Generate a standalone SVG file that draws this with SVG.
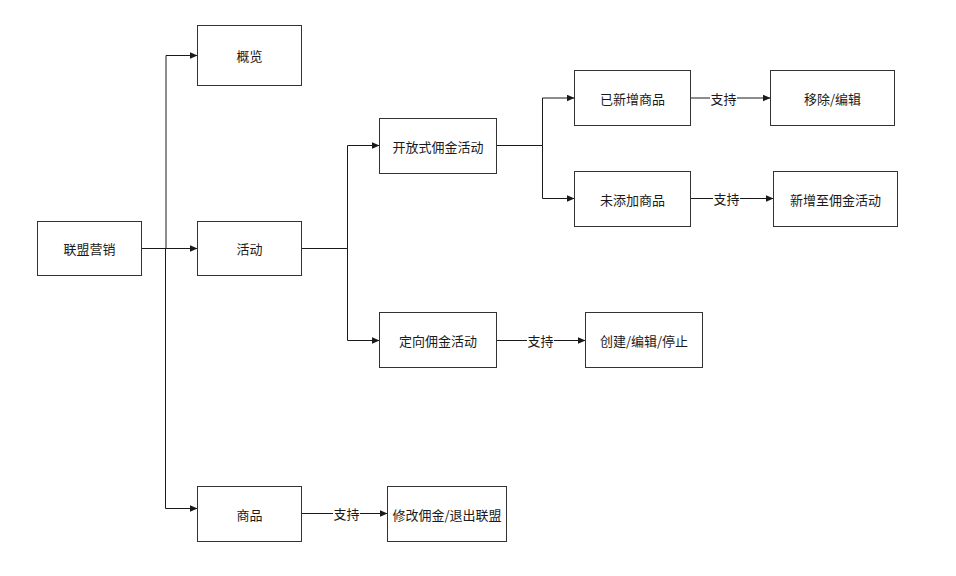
<svg xmlns="http://www.w3.org/2000/svg" width="956" height="576" viewBox="0 0 956 576">
<style>
.box{fill:#ffffff;stroke:#333333;stroke-width:1}
.t{font-family:"Noto Sans CJK SC","Microsoft YaHei",sans-serif;font-size:13px;fill:#1a1a1a;text-anchor:middle;dominant-baseline:central}
.c{fill:none;stroke:#1a1a1a;stroke-width:1}
.lb{fill:#ffffff}
</style>
<defs>
<marker id="arr" markerUnits="userSpaceOnUse" markerWidth="8" markerHeight="7" refX="7.5" refY="3.5" orient="auto">
<path d="M0,0 L8,3.5 L0,7 z" fill="#1a1a1a"/>
</marker>
</defs>
<rect width="956" height="576" fill="#ffffff"/>
<g id="connectors">
<polyline class="c" points="141.5,248.5 166,248.5 166,55.5 197,55.5" marker-end="url(#arr)"/>
<polyline class="c" points="141.5,248.5 197,248.5" marker-end="url(#arr)"/>
<polyline class="c" points="141.5,248.5 165.5,248.5 165.5,508.5 197,508.5" marker-end="url(#arr)"/>
<polyline class="c" points="301.5,248.5 347.5,248.5 347.5,145.5 379,145.5" marker-end="url(#arr)"/>
<polyline class="c" points="301.5,248.5 347.5,248.5 347.5,340.5 379,340.5" marker-end="url(#arr)"/>
<polyline class="c" points="496.5,145.5 542.5,145.5 542.5,98 574,98" marker-end="url(#arr)"/>
<polyline class="c" points="496.5,145.5 542.5,145.5 542.5,198.5 574,198.5" marker-end="url(#arr)"/>
<line class="c" x1="690.5" y1="98" x2="770" y2="98" marker-end="url(#arr)"/>
<line class="c" x1="690.5" y1="198.5" x2="773" y2="198.5" marker-end="url(#arr)"/>
<line class="c" x1="496.5" y1="340.5" x2="585" y2="340.5" marker-end="url(#arr)"/>
<line class="c" x1="301.5" y1="513.5" x2="387" y2="513.5" marker-end="url(#arr)"/>
<g id="labels">
<rect class="lb" x="710" y="90" width="27" height="16"/>
<text class="t" x="723.5" y="98">支持</text>
<rect class="lb" x="713" y="190.5" width="27" height="16"/>
<text class="t" x="726.5" y="198.5">支持</text>
<rect class="lb" x="527" y="332.5" width="27" height="16"/>
<text class="t" x="540.5" y="340.5">支持</text>
<rect class="lb" x="333" y="505.5" width="27" height="16"/>
<text class="t" x="346.5" y="513.5">支持</text>
</g>
</g>
<g id="n-root"><rect class="box" x="37.5" y="221.5" width="104" height="54"/><text class="t" x="89.5" y="248.5">联盟营销</text></g>
<g id="n-overview"><rect class="box" x="197.5" y="25.5" width="104" height="60"/><text class="t" x="249.5" y="55.5">概览</text></g>
<g id="n-activity"><rect class="box" x="197.5" y="221.5" width="104" height="54"/><text class="t" x="249.5" y="248.5">活动</text></g>
<g id="n-goods"><rect class="box" x="197.5" y="486.5" width="104" height="55"/><text class="t" x="249.5" y="514">商品</text></g>
<g id="n-open"><rect class="box" x="379.5" y="118.5" width="117" height="55"/><text class="t" x="438" y="146">开放式佣金活动</text></g>
<g id="n-directed"><rect class="box" x="379.5" y="312.5" width="117" height="55"/><text class="t" x="438" y="340">定向佣金活动</text></g>
<g id="n-added"><rect class="box" x="574.5" y="70.5" width="116" height="55"/><text class="t" x="632.5" y="98">已新增商品</text></g>
<g id="n-notadded"><rect class="box" x="574.5" y="171.5" width="116" height="55"/><text class="t" x="632.5" y="199">未添加商品</text></g>
<g id="n-remove"><rect class="box" x="770.5" y="70.5" width="124" height="55"/><text class="t" x="832.5" y="98">移除/编辑</text></g>
<g id="n-addto"><rect class="box" x="773.5" y="171.5" width="124" height="55"/><text class="t" x="835.5" y="199">新增至佣金活动</text></g>
<g id="n-create"><rect class="box" x="585.5" y="312.5" width="117" height="55"/><text class="t" x="644" y="340">创建/编辑/停止</text></g>
<g id="n-modify"><rect class="box" x="387.5" y="486.5" width="119" height="55"/><text class="t" x="447" y="514">修改佣金/退出联盟</text></g>
</svg>
